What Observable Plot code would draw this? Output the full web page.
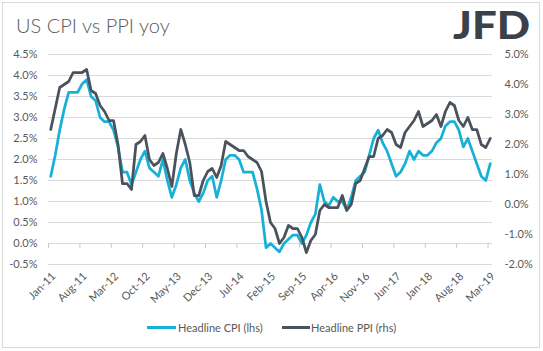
<!DOCTYPE html>
<html><head><meta charset="utf-8">
<script src="https://cdn.jsdelivr.net/npm/d3@7"></script>
<script src="https://cdn.jsdelivr.net/npm/@observablehq/plot@0.6"></script>
<style>
body{margin:0;background:#fff;}
#wrap{position:relative;width:543px;height:351px;overflow:hidden;font-family:Lato,"Open Sans",sans-serif;}
#frame{position:absolute;left:2px;top:2px;width:538px;height:346px;border:1px solid #d9d9d9;box-sizing:border-box;}
#chart{position:absolute;left:0;top:0;}
#title{position:absolute;left:16px;top:15px;font-size:20px;line-height:1;color:#595959;font-weight:300;white-space:nowrap;}
#logo{position:absolute;left:453px;top:0px;}
#logo svg{display:block;}
.lg{position:absolute;top:321px;font-size:11px;line-height:14px;color:#595959;white-space:nowrap;}
.sw{position:absolute;top:326px;height:3px;}
</style></head>
<body><div id="wrap">
<div id="frame"></div>
<div id="chart"></div>
<div id="title">US CPI vs PPI yoy</div>
<div id="logo"><svg width="80" height="47"><text x="0" y="38.5" font-family="Lato, 'Open Sans', sans-serif" font-size="38" font-weight="900" fill="#3b4149" textLength="77" lengthAdjust="spacingAndGlyphs">JFD</text></svg></div>
<div class="sw" id="sw1" style="left:147px;width:29px;"></div>
<div class="lg" id="lg1" style="left:178px;"></div>
<div class="sw" id="sw2" style="left:282px;width:28px;"></div>
<div class="lg" id="lg2" style="left:311px;"></div>
</div>
<script>
// Monthly, Jan-2011 .. Mar-2019 (99 months)
// Headline CPI yoy % (lhs)
const cpi = [
  1.6,2.1,2.7,3.2,3.6,3.6,3.6,3.8,3.9,3.5,3.4,3.0,
  2.9,2.9,2.7,2.3,1.7,1.7,1.4,1.7,2.0,2.2,1.8,1.7,
  1.6,2.0,1.5,1.1,1.4,1.8,2.0,1.5,1.2,1.0,1.2,1.5,
  1.6,1.1,1.5,2.0,2.1,2.1,2.0,1.7,1.7,1.7,1.3,0.8,
  -0.1,0.0,-0.1,-0.2,0.0,0.1,0.2,0.2,0.0,0.2,0.5,0.7,
  1.4,1.0,0.9,1.1,1.0,1.0,0.8,1.1,1.5,1.6,1.7,2.1,
  2.5,2.7,2.4,2.2,1.9,1.6,1.7,1.9,2.2,2.0,2.2,2.1,
  2.1,2.2,2.4,2.5,2.8,2.9,2.9,2.7,2.3,2.5,2.2,1.9,
  1.6,1.5,1.9
];
// Headline PPI yoy % (rhs)
const ppi = [
  2.5,3.2,3.9,4.0,4.1,4.4,4.4,4.4,4.5,3.8,3.7,3.3,
  3.1,2.8,2.8,2.0,0.7,0.7,0.5,2.0,2.1,2.3,1.5,1.3,
  1.4,1.7,1.2,0.6,1.7,2.5,2.0,1.4,0.3,0.3,0.8,1.1,
  1.2,0.9,1.3,2.1,2.0,1.9,1.8,1.8,1.6,1.5,1.4,1.1,
  0.1,-0.6,-0.8,-1.3,-1.1,-0.7,-0.8,-0.8,-1.1,-1.6,-1.2,-1.0,
  -0.2,0.0,-0.1,-0.1,-0.1,0.3,-0.2,0.0,0.7,0.8,1.2,1.6,
  1.6,2.2,2.3,2.5,2.4,2.0,1.9,2.4,2.6,2.8,3.1,2.6,
  2.7,2.8,3.0,2.6,3.1,3.4,3.3,2.8,2.6,2.9,2.5,2.5,
  2.0,1.9,2.2
];
const tickLabels = ["Jan-11","Aug-11","Mar-12","Oct-12","May-13","Dec-13","Jul-14","Feb-15","Sep-15","Apr-16","Nov-16","Jun-17","Jan-18","Aug-18","Mar-19"];
const leftTicks = [4.5,4.0,3.5,3.0,2.5,2.0,1.5,1.0,0.5,0.0,-0.5];
const rightTicks = [5,4,3,2,1,0,-1,-2];
const seriesNames = ["Headline CPI (lhs)","Headline PPI (rhs)"];
const colors = ["#17b1d7","#4a525c"];

const leftDomain = [-0.5, 4.5];
const rightDomain = [-2, 5];
// map rhs value into lhs units (secondary axis)
const toL = r => leftDomain[0] + (r - rightDomain[0]) * (leftDomain[1]-leftDomain[0]) / (rightDomain[1]-rightDomain[0]);
const toR = l => rightDomain[0] + (l - leftDomain[0]) * (rightDomain[1]-rightDomain[0]) / (leftDomain[1]-leftDomain[0]);

const idx = d3.range(cpi.length);
const tickIdx = d3.range(0, cpi.length, 7);

const chart = Plot.plot({
  width: 543, height: 351,
  marginTop: 54, marginBottom: 87, marginLeft: 48, marginRight: 51,
  x: {domain: [-0.5, cpi.length - 0.5], axis: null},
  y: {domain: leftDomain},
  style: {fontFamily: "Lato, 'Open Sans', sans-serif", fontSize: "11px", color: "#595959", background: "transparent", overflow: "visible"},
  marks: [
    Plot.ruleY(leftTicks, {stroke: "#d9d9d9", strokeWidth: 1}),
    Plot.ruleX(tickIdx, {x: d => d - 0.5, y1: 0, y2: -0.115, stroke: "#c8c8c8", strokeWidth: 1}),
    Plot.axisY({ticks: leftTicks, anchor: "left", tickSize: 0, tickPadding: 11, label: null,
      tickFormat: d => d.toFixed(1) + "%", fill: "#595959"}),
    Plot.axisY({ticks: rightTicks.map(toL), anchor: "right", tickSize: 0, tickPadding: 12, label: null,
      tickFormat: d => (Math.round(toR(d) * 10) / 10).toFixed(1) + "%", fill: "#595959"}),
    Plot.text(tickIdx, {x: d => d, y: leftDomain[0], text: (d, i) => tickLabels[i], rotate: -45,
      textAnchor: "end", dx: 3, dy: 10, fill: "#595959"}),
    Plot.line(idx, {x: i => i, y: i => cpi[i], stroke: colors[0], strokeWidth: 2.75, strokeLinejoin: "round"}),
    Plot.line(idx, {x: i => i, y: i => toL(ppi[i]), stroke: colors[1], strokeWidth: 2.75, strokeLinejoin: "round"})
  ]
});
document.getElementById("chart").appendChild(chart);
document.getElementById("sw1").style.background = colors[0];
document.getElementById("sw2").style.background = colors[1];
document.getElementById("lg1").textContent = seriesNames[0];
document.getElementById("lg2").textContent = seriesNames[1];
</script>
</body></html>
